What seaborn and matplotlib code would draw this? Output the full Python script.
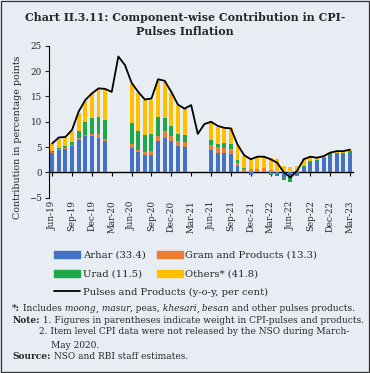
import numpy as np
import pandas as pd
import seaborn as sns
import matplotlib.pyplot as plt
from matplotlib.patches import Rectangle, Patch
from matplotlib.lines import Line2D

# Months Jun-19 .. Mar-23
months = pd.date_range('2019-06-01', '2023-03-01', freq='MS').strftime('%b-%y').tolist()

nan = np.nan
# Component contributions (percentage points); NaN where item data not released
arhar = [3.75, 4.4, 4.7, 5.2, 6.4, 7.2, 7.2, 6.85, 6.2, nan, nan, nan,
         4.9, 4.1, 3.4, 3.4, 6.25, 6.85, 6.2, 5.2, 5.1, nan, nan, nan,
         4.5, 3.9, 3.9, 3.6, 1.25, 0.1, -0.5, 0.05, 0.05, -0.1, -0.6, -1.0,
         -1.1, -0.5, 1.1, 1.9, 2.2, 2.9, 3.4, 3.55, 3.55, 3.75]
gram = [0.2, 0.15, 0.15, 0.15, 0.45, 0.2, 0.3, 0.65, 0.4, nan, nan, nan,
        0.8, 0.4, 0.55, 0.9, 1.0, 1.35, 1.05, 1.0, 1.0, nan, nan, nan,
        1.0, 1.2, 1.0, 1.1, 0.55, 0.5, 0.6, 0.55, 0.75, 0.5, 0.15, 0.05,
        0.05, 0.05, 0.05, 0.05, 0.05, 0.05, 0.05, 0.05, 0.05, 0.05]
urad = [0.25, 0.35, 0.35, 0.65, 1.35, 2.5, 3.3, 3.5, 3.75, nan, nan, nan,
        4.1, 3.7, 3.45, 3.3, 3.65, 2.6, 1.95, 1.4, 1.3, nan, nan, nan,
        0.9, 0.6, 1.0, 0.9, 0.6, 0.2, 0.1, 0.1, 0.05, -0.35, -0.1, -0.6,
        -0.8, -0.3, 0.15, 0.35, 0.15, 0.15, 0.3, 0.3, 0.3, 0.35]
others = [1.4, 1.6, 1.65, 2.2, 3.6, 4.3, 4.8, 5.5, 6.15, nan, nan, nan,
          7.6, 7.4, 7.0, 6.8, 7.1, 7.0, 6.5, 5.8, 5.2, nan, nan, nan,
          3.6, 3.3, 2.9, 3.1, 2.8, 2.4, 2.1, 2.4, 2.3, 2.3, 2.45, 1.2,
          1.05, 1.2, 1.3, 0.8, 0.5, 0.1, 0.2, 0.4, 0.2, 0.35]
# Pulses and products, y-o-y inflation (per cent)
pulses = [5.7, 6.9, 7.0, 8.4, 12.0, 14.3, 15.6, 16.6, 16.5, 15.9, 22.9, 21.2,
          17.7, 15.9, 14.4, 14.6, 18.4, 18.1, 15.9, 13.4, 12.6, 13.3, 7.6, 9.55,
          10.0, 9.2, 8.8, 8.7, 5.5, 3.4, 2.6, 3.1, 3.1, 2.6, 1.9, 0.0,
          -1.0, 0.3, 2.6, 3.1, 2.9, 3.2, 3.9, 4.2, 4.2, 4.5]

series = [('Arhar (33.4)', arhar, '#4472C4'),
          ('Gram and Products (13.3)', gram, '#ED7D31'),
          ('Urad (11.5)', urad, '#1FA84A'),
          ('Others* (41.8)', others, '#FFC000')]

bg = '#E8EDF4'
sns.set_theme(style='white', rc={'axes.facecolor': bg, 'figure.facecolor': bg})
plt.rcParams['font.family'] = ['DejaVu Serif']

fig = plt.figure(figsize=(3.7, 3.73), dpi=100)
ax = fig.add_axes([0.132, 0.47, 0.823, 0.407])

x = np.arange(len(months))
pos_base = np.zeros(len(x))
neg_base = np.zeros(len(x))
for name, vals, col in series:
    v = np.array(vals, dtype=float)
    vv = np.nan_to_num(v)
    base = np.where(vv >= 0, pos_base, neg_base)
    ax.bar(x, v, bottom=base, width=0.6, color=col, linewidth=0)
    pos_base = pos_base + np.where(vv > 0, vv, 0)
    neg_base = neg_base + np.where(vv < 0, vv, 0)

sns.lineplot(x=x, y=pulses, color='black', linewidth=1.3, ax=ax)

ax.set_xlim(-0.5, len(x) - 0.5)
ax.set_ylim(-5, 25)
ax.set_yticks(range(-5, 26, 5))
ax.set_xticks(x[::3])
ax.set_xticklabels(months[::3], rotation=90, fontsize=6.3)
ax.tick_params(axis='x', length=0, pad=2)
ax.tick_params(axis='y', labelsize=6.3, length=3, width=0.8, direction='out', left=True, pad=2)
ax.set_ylabel('Contribution in percentage points', fontsize=6.8)
ax.yaxis.set_label_coords(-0.088, 0.4)
for s in ['top', 'right', 'bottom']:
    ax.spines[s].set_visible(False)
ax.spines['left'].set_color('black')
ax.spines['left'].set_linewidth(0.8)

# zero line with tick marks
zero = ax.secondary_xaxis(5 / 30)
zero.set_xticks(x[::3])
zero.set_xticklabels([])
zero.tick_params(length=3, width=0.8, direction='out', color='black')
zero.spines['bottom'].set_color('black')
zero.spines['bottom'].set_linewidth(1.0)

fig.text(0.5, 0.934, 'Chart II.3.11: Component-wise Contribution in CPI-\nPulses Inflation',
         ha='center', va='center', fontsize=7.9, fontweight='bold', linespacing=1.3)

bar_handles = [Patch(color=series[0][2], label=series[0][0]),
               Patch(color=series[2][2], label=series[2][0]),
               Patch(color=series[1][2], label=series[1][0]),
               Patch(color=series[3][2], label=series[3][0])]
fig.legend(handles=bar_handles, ncol=2, loc='center left', bbox_to_anchor=(0.147, 0.290),
           frameon=False, fontsize=7.2, handlelength=2.6, handleheight=0.75,
           handletextpad=0.25, columnspacing=1.1, labelspacing=1.0, borderpad=0,
           borderaxespad=0)
fig.legend(handles=[Line2D([], [], color='black', lw=1.3, label='Pulses and Products (y-o-y, per cent)')],
           loc='center left', bbox_to_anchor=(0.147, 0.217), frameon=False, fontsize=7.2,
           handlelength=2.6, handletextpad=0.25, borderpad=0, borderaxespad=0)

# footnotes, written as runs of plain / italic / bold text
renderer = fig.canvas.get_renderer()
fs = 6.45


def write_runs(x0, y, parts):
    xpix = x0 * fig.bbox.width
    for txt, style, weight in parts:
        t = fig.text(xpix / fig.bbox.width, y, txt, fontsize=fs, style=style,
                     fontweight=weight, va='center')
        xpix = t.get_window_extent(renderer=renderer).x1


write_runs(0.033, 0.172, [('*:', 'normal', 'bold'), (' Includes', 'normal', 'normal'),
                          (' moong', 'italic', 'normal'), (',', 'normal', 'normal'),
                          (' masur', 'italic', 'normal'), (', peas,', 'normal', 'normal'),
                          (' khesari', 'italic', 'normal'), (',', 'normal', 'normal'),
                          (' besan', 'italic', 'normal'),
                          (' and other pulses products.', 'normal', 'normal')])
write_runs(0.033, 0.142, [('Note:', 'normal', 'bold'),
                          (' 1. Figures in parentheses indicate weight in CPI-pulses and products.',
                           'normal', 'normal')])
write_runs(0.105, 0.110, [('2. Item level CPI data were not released by the NSO during March-',
                           'normal', 'normal')])
write_runs(0.137, 0.075, [('May 2020.', 'normal', 'normal')])
write_runs(0.033, 0.043, [('Source:', 'normal', 'bold'),
                          (' NSO and RBI staff estimates.', 'normal', 'normal')])

fig.add_artist(Rectangle((0.004, 0.004), 0.992, 0.992, transform=fig.transFigure,
                         fill=False, edgecolor='#333333', linewidth=0.9))

fig.savefig('out.png', dpi=100)
